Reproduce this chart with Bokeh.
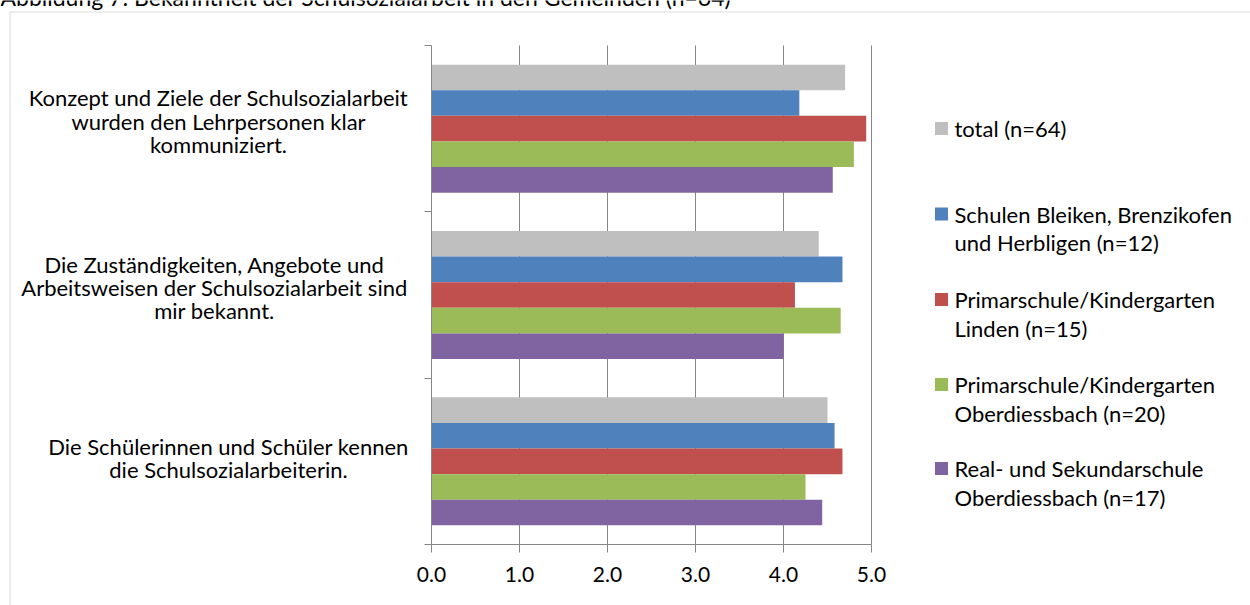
from bokeh.plotting import figure
from bokeh.models import (Range1d, FixedTicker, NumeralTickFormatter,
                          ColumnDataSource, BoxAnnotation)
from bokeh.core.properties import value
from bokeh.embed import file_html
from bokeh.resources import INLINE

# ---------------- data ----------------
title = "Abbildung 7: Bekanntheit der Schulsozialarbeit in den Gemeinden (n=64)"
categories = [
    "Konzept und Ziele der Schulsozialarbeit\nwurden den Lehrpersonen klar\nkommuniziert.",
    "Die Zuständigkeiten, Angebote und\nArbeitsweisen der Schulsozialarbeit sind\nmir bekannt.",
    "Die Schülerinnen und Schüler kennen\ndie Schulsozialarbeiterin.",
]
series_names = [
    "total (n=64)",
    "Schulen Bleiken, Brenzikofen\nund Herbligen (n=12)",
    "Primarschule/Kindergarten\nLinden (n=15)",
    "Primarschule/Kindergarten\nOberdiessbach (n=20)",
    "Real- und Sekundarschule\nOberdiessbach (n=17)",
]
total = [4.70, 4.40, 4.50]
bleiken = [4.18, 4.67, 4.58]
linden = [4.94, 4.13, 4.67]
oberdiessbach_prim = [4.80, 4.65, 4.25]
oberdiessbach_sek = [4.56, 4.00, 4.44]
x_ticks = [0, 1, 2, 3, 4, 5]

series = [total, bleiken, linden, oberdiessbach_prim, oberdiessbach_sek]
colors = ["#BFBFBF", "#4F81BD", "#C0504D", "#9BBB59", "#8064A2"]

# ---------------- layout (pixel targets) ----------------
W, H = 1250, 605
AX_X0, AX_TOP, AX_BOT = 431, 45, 544      # x=0 line, plot top, plot bottom
PX_PER_X = 88.0
n_cat = len(categories)
PX_PER_Y = (AX_BOT - AX_TOP) / n_cat
FONT = "Lato"
FS = "22px"
AX_COL = "#868686"


def ydata(py):
    return (AX_BOT - py) / PX_PER_Y


def xdata(px):
    return (px - AX_X0) / PX_PER_X


p = figure(width=W, height=H,
           x_range=Range1d(xdata(0), xdata(W)),
           y_range=Range1d(ydata(H), ydata(0)),
           output_backend="svg", toolbar_location=None,
           min_border=0, min_border_left=0, min_border_right=0,
           min_border_top=0, min_border_bottom=0)
p.title.visible = False
p.outline_line_color = None
p.background_fill_color = "white"
p.border_fill_color = "white"

# x axis
xa = p.xaxis[0]
xa.fixed_location = 0
xa.ticker = FixedTicker(ticks=x_ticks)
xa.bounds = (0, 5)
xa.formatter = NumeralTickFormatter(format="0.0")
xa.axis_line_color = AX_COL
xa.major_tick_line_color = AX_COL
xa.major_tick_in = 0
xa.major_tick_out = 8
xa.minor_tick_line_color = None
xa.major_label_text_font = FONT
xa.major_label_text_font_size = "21px"
xa.major_label_text_color = "black"
xa.major_label_standoff = 14

# y axis (category separators, no tick labels)
ya = p.yaxis[0]
ya.fixed_location = 0
ya.ticker = FixedTicker(ticks=list(range(n_cat + 1)))
ya.bounds = (0, n_cat)
ya.major_label_overrides = {t: "" for t in range(n_cat + 1)}
ya.axis_line_color = AX_COL
ya.major_tick_line_color = AX_COL
ya.major_tick_in = 0
ya.major_tick_out = 7
ya.minor_tick_line_color = None

p.ygrid.grid_line_color = None
grid_ok = True
try:
    p.xgrid.cross_bounds = (0, n_cat)
    p.xgrid.ticker = FixedTicker(ticks=x_ticks[1:])
    p.xgrid.grid_line_color = AX_COL
except Exception:
    grid_ok = False
if not grid_ok:
    p.xgrid.grid_line_color = None
    p.segment(x0=x_ticks[1:], x1=x_ticks[1:], y0=[0] * 5, y1=[n_cat] * 5,
              line_color=AX_COL, line_width=1, level="underlay")

# bars
bh = 0.154
ns = len(series)
for j, (vals, col) in enumerate(zip(series, colors)):
    ys = [n_cat - 0.5 - i + ((ns - 1) / 2 - j) * bh for i in range(n_cat)]
    src = ColumnDataSource(dict(y=ys, right=vals))
    p.hbar(y="y", left=0, right="right", height=bh, fill_color=col,
           line_color=None, source=src)

# category labels (lines centred within block)
label_cx = [218, 214, 228]
label_dy = [-7.5, -7.5, -3.5]
cx, cy, ct = [], [], []
for i, cat in enumerate(categories):
    lines = cat.split("\n")
    center = AX_TOP + (i + 0.5) * PX_PER_Y + label_dy[i]
    for k, line in enumerate(lines):
        py = center + (k - (len(lines) - 1) / 2) * 23.2
        cx.append(xdata(label_cx[i]))
        cy.append(ydata(py))
        ct.append(line)
p.text(x=cx, y=cy, text=ct, text_font=value(FONT), text_font_size=value(FS),
       text_baseline="middle", text_align="center", text_color="black")

# legend
leg_y = [128, 213.5, 299, 384, 468]
sq_x, tx_x, leg_lh = 941, 954, 28.5
p.scatter(x=[xdata(sq_x)] * ns, y=[ydata(v) for v in leg_y], marker="square",
          size=13, fill_color=colors, line_color=None)
tx, ty, tt = [], [], []
for j, name in enumerate(series_names):
    for k, line in enumerate(name.split("\n")):
        tx.append(xdata(tx_x))
        ty.append(ydata(leg_y[j] + k * leg_lh))
        tt.append(line)
p.text(x=tx, y=ty, text=tt, text_font=value(FONT), text_font_size=value(FS),
       text_baseline="middle", text_align="left", text_color="black")

# title (cut at top like the reference)
p.text(x=[xdata(0)], y=[ydata(-4)], text=[title], text_font=value(FONT),
       text_font_size=value("23px"), text_baseline="alphabetic", text_align="left",
       text_color="black")

# chart-area border
p.add_layout(BoxAnnotation(left=xdata(9.5), right=xdata(W + 50),
                           top=ydata(11.5), bottom=ydata(H + 50),
                           fill_color=None, line_color=AX_COL, line_width=1))

open("out.html", "w").write(file_html(p, INLINE))
